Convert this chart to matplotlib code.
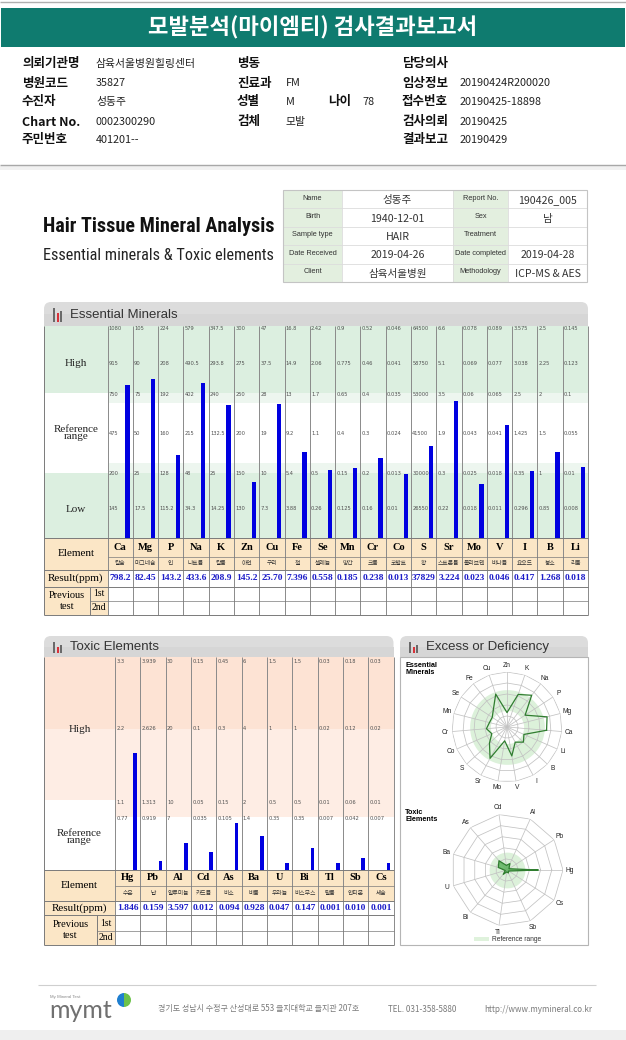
import os
import numpy as np
import matplotlib
matplotlib.use('Agg')
import matplotlib.pyplot as plt
from matplotlib.patches import Rectangle, FancyBboxPatch, Wedge
from matplotlib import font_manager as fm

# ---------------- data ----------------
title_text = '모발분석(마이엠티) 검사결과보고서'

info_col1_labels = ['의뢰기관명', '병원코드', '수진자', 'Chart No.', '주민번호']
info_col1_values = ['삼육서울병원힐링센터', '35827', '성동주', '0002300290', '401201--']
info_col2_labels = ['병동', '진료과', '성별', '검체']
info_col2_values = ['', 'FM', 'M', '모발']
info_age_label = '나이'
info_age_value = '78'
info_col3_labels = ['담당의사', '임상정보', '접수번호', '검사의뢰', '결과보고']
info_col3_values = ['', '20190424R200020', '20190425-18898', '20190425', '20190429']

card_labels_left = ['Name', 'Birth', 'Sample type', 'Date Received', 'Client']
card_values_left = ['성동주', '1940-12-01', 'HAIR', '2019-04-26', '삼육서울병원']
card_labels_right = ['Report No.', 'Sex', 'Treatment', 'Date completed', 'Methodology']
card_values_right = ['190426_005', '남', '', '2019-04-28', 'ICP-MS & AES']

ess_elements = ['Ca', 'Mg', 'P', 'Na', 'K', 'Zn', 'Cu', 'Fe', 'Se', 'Mn',
                'Cr', 'Co', 'S', 'Sr', 'Mo', 'V', 'I', 'B', 'Li']
ess_names = ['칼슘', '마그네슘', '인', '나트륨', '칼륨', '아연', '구리', '철', '셀레늄', '망간',
             '크롬', '코발트', '황', '스트론튬', '몰리브덴', '바나듐', '요오드', '붕소', '리튬']
ess_results = [798.2, 82.45, 143.2, 433.6, 208.9, 145.2, 25.70, 7.396, 0.558, 0.185,
               0.238, 0.013, 37829, 3.224, 0.023, 0.046, 0.417, 1.268, 0.018]
ess_result_text = ['798.2', '82.45', '143.2', '433.6', '208.9', '145.2', '25.70', '7.396',
                   '0.558', '0.185', '0.238', '0.013', '37829', '3.224', '0.023', '0.046',
                   '0.417', '1.268', '0.018']
# scale ticks of each column, top row -> bottom row
ess_ticks = [
    ['1080', '915', '750', '475', '200', '145'],
    ['105', '90', '75', '50', '25', '17.5'],
    ['224', '208', '192', '160', '128', '115.2'],
    ['579', '490.5', '402', '215', '48', '34.3'],
    ['347.5', '293.8', '240', '132.5', '25', '14.25'],
    ['300', '275', '250', '200', '150', '130'],
    ['47', '37.5', '28', '19', '10', '7.3'],
    ['16.8', '14.9', '13', '9.2', '5.4', '3.88'],
    ['2.42', '2.06', '1.7', '1.1', '0.5', '0.26'],
    ['0.9', '0.775', '0.65', '0.4', '0.15', '0.125'],
    ['0.52', '0.46', '0.4', '0.3', '0.2', '0.16'],
    ['0.046', '0.041', '0.035', '0.024', '0.013', '0.01'],
    ['64500', '58750', '53000', '41500', '30000', '26550'],
    ['6.6', '5.1', '3.5', '1.9', '0.3', '0.22'],
    ['0.078', '0.069', '0.06', '0.043', '0.025', '0.018'],
    ['0.089', '0.077', '0.065', '0.041', '0.018', '0.011'],
    ['3.575', '3.038', '2.5', '1.425', '0.35', '0.296'],
    ['2.5', '2.25', '2', '1.5', '1', '0.85'],
    ['0.145', '0.123', '0.1', '0.055', '0.01', '0.008'],
]

tox_elements = ['Hg', 'Pb', 'Al', 'Cd', 'As', 'Ba', 'U', 'Bi', 'Tl', 'Sb', 'Cs']
tox_names = ['수은', '납', '알루미늄', '카드뮴', '비소', '바륨', '우라늄', '비스무스', '탈륨', '안티몬', '세슘']
tox_results = [1.846, 0.159, 3.597, 0.012, 0.094, 0.928, 0.047, 0.147, 0.001, 0.010, 0.001]
tox_result_text = ['1.846', '0.159', '3.597', '0.012', '0.094', '0.928', '0.047', '0.147',
                   '0.001', '0.010', '0.001']
tox_ticks = [
    ['3.3', '2.2', '1.1', '0.77'],
    ['3.939', '2.626', '1.313', '0.919'],
    ['30', '20', '10', '7'],
    ['0.15', '0.1', '0.05', '0.035'],
    ['0.45', '0.3', '0.15', '0.105'],
    ['6', '4', '2', '1.4'],
    ['1.5', '1', '0.5', '0.35'],
    ['1.5', '1', '0.5', '0.35'],
    ['0.03', '0.02', '0.01', '0.007'],
    ['0.18', '0.12', '0.06', '0.042'],
    ['0.03', '0.02', '0.01', '0.007'],
]

footer_address = '경기도 성남시 수정구 산성대로 553 을지대학교 을지관 207호'
footer_tel = 'TEL. 031-358-5880'
footer_url = 'http://www.mymineral.co.kr'

# ---------------- scale (fraction of chart height for each tick row) ----------------
ESS_LEVELS = [0.986, 0.825, 0.679, 0.495, 0.302, 0.137]
TOX_LEVELS = [0.977, 0.662, 0.319, 0.244]


def to_frac(value, ticks, levels):
    xs = [0.0] + [float(t) for t in ticks[::-1]]
    fs = [0.0] + list(levels[::-1])
    return float(np.interp(value, xs, fs))


# ---------------- fonts ----------------
KR = ['Noto Sans CJK KR', 'DejaVu Sans']
SERIF = ['Liberation Serif', 'DejaVu Serif']
SANS = ['Liberation Sans', 'DejaVu Sans']


def pick_font(patterns):
    files = {}
    for f in fm.fontManager.ttflist:
        files[os.path.basename(f.fname).lower()] = f.fname
    for p in patterns:
        for b in sorted(files):
            if b.startswith(p):
                return fm.FontProperties(fname=files[b])
    return None


title_fp = pick_font(['notosans-extracondensedbold.', 'robotocondensed-bold.',
                      'notosans-condensedbold.', 'liberationsansnarrow-bold.',
                      'dejavusanscondensed-bold.']) or fm.FontProperties(family='DejaVu Sans', weight='bold')
sub_fp = pick_font(['robotocondensed-regular.', 'notosans-condensed.', 'liberationsansnarrow-regular.',
                    'dejavusanscondensed.']) or fm.FontProperties(family='Liberation Sans')

# ---------------- figure ----------------
W, H = 626, 1040
fig = plt.figure(figsize=(W / 100, H / 100), dpi=100)
fig.patch.set_facecolor('white')
page = fig.add_axes([0, 0, 1, 1])
page.set_xlim(0, W)
page.set_ylim(H, 0)
page.axis('off')


def rect(x0, y0, x1, y1, fc, ec='none', lw=0, z=0):
    page.add_patch(Rectangle((x0, y0), x1 - x0, y1 - y0, facecolor=fc, edgecolor=ec, linewidth=lw, zorder=z))


def hline(y, x0, x1, c, lw=0.7, z=2):
    page.plot([x0, x1], [y, y], color=c, lw=lw, zorder=z, solid_capstyle='butt')


def vline(x, y0, y1, c, lw=0.7, z=2):
    page.plot([x, x], [y0, y1], color=c, lw=lw, zorder=z, solid_capstyle='butt')


def px_axes(x0, y0, x1, y1, **kw):
    return fig.add_axes([x0 / W, 1 - y1 / H, (x1 - x0) / W, (y1 - y0) / H], **kw)


def panel_header(x0, y0, x1, y1, title, tx):
    page.add_patch(FancyBboxPatch((x0, y0), x1 - x0, y1 - y0,
                                  boxstyle='round,pad=0,rounding_size=7',
                                  facecolor='#dcdcdc', edgecolor='none', zorder=1))
    rect(x0, (y0 + y1) / 2, x1, y1, '#d6d6d6', z=1)
    # small bar-chart icon
    ix = x0 + 9
    rect(ix, y0 + 6, ix + 2, y1 - 4, '#6a6a6a', z=2)
    rect(ix + 3.5, y0 + 11, ix + 5.5, y1 - 4, '#d8323a', z=2)
    rect(ix + 7, y0 + 9, ix + 9, y1 - 4, '#6a6a6a', z=2)
    page.text(tx, (y0 + y1) / 2 + 0.5, title, fontsize=9.5, family=SANS, color='#333333',
              ha='left', va='center', zorder=3)


# ---------------- top header ----------------
hline(1.5, 0, W, '#b0b0b0', lw=1.0)
rect(1, 8, 625, 47, '#0f7b6f')
page.text(313, 27.5, title_text, color='white', fontsize=16, weight='bold', ha='center', va='center', family=KR)

rows_y = [64, 83, 102, 122, 140]
for y, lab, val in zip(rows_y, info_col1_labels, info_col1_values):
    page.text(22, y, lab, fontsize=9, weight='bold', family=KR, ha='left', va='center', color='#111')
    page.text(96, y, val, fontsize=7.8, family=KR, ha='left', va='center', color='#222')
for y, lab, val in zip(rows_y, info_col2_labels, info_col2_values):
    page.text(237, y, lab, fontsize=9, weight='bold', family=KR, ha='left', va='center', color='#111')
    page.text(286, y, val, fontsize=7.8, family=KR, ha='left', va='center', color='#222')
page.text(328, rows_y[2], info_age_label, fontsize=9, weight='bold', family=KR, ha='left', va='center', color='#111')
page.text(362, rows_y[2], info_age_value, fontsize=7.8, family=KR, ha='left', va='center', color='#222')
for y, lab, val in zip(rows_y, info_col3_labels, info_col3_values):
    page.text(402, y, lab, fontsize=9, weight='bold', family=KR, ha='left', va='center', color='#111')
    page.text(460, y, val, fontsize=7.8, family=KR, ha='left', va='center', color='#222')

hline(165, 0, W, '#a8a8a8', lw=1.0)
rect(0, 165.5, W, 170, '#f1f1f1')

# ---------------- title block ----------------
t1 = page.text(43, 226, 'Hair Tissue Mineral Analysis', fontproperties=title_fp, color='#111111',
               ha='left', va='center')
t1.set_fontsize(20)
t2 = page.text(43, 255, 'Essential minerals & Toxic elements', fontproperties=sub_fp, color='#222222',
               ha='left', va='center')
t2.set_fontsize(12)
fig.canvas.draw()
rend = fig.canvas.get_renderer()
w1 = t1.get_window_extent(rend).width
t1.set_fontsize(min(24, 20 * 231 / w1))
w2 = t2.get_window_extent(rend).width
t2.set_fontsize(min(13, 12 * 231 / w2))

# info card
cx = [283, 342, 453, 508, 587]
cy = np.linspace(190, 282, 6)
for r in range(5):
    rect(cx[0], cy[r], cx[1], cy[r + 1], '#e3efdf', z=0)
    rect(cx[2], cy[r], cx[3], cy[r + 1], '#e3efdf', z=0)
for y in cy[1:-1]:
    hline(y, cx[0], cx[4], '#dcdcdc', lw=0.6)
for x in cx[1:-1]:
    vline(x, cy[0], cy[-1], '#dcdcdc', lw=0.6)
page.add_patch(Rectangle((cx[0], cy[0]), cx[4] - cx[0], cy[-1] - cy[0], facecolor='none',
                         edgecolor='#c4c4c4', lw=0.8, zorder=3))
for r in range(5):
    ym = (cy[r] + cy[r + 1]) / 2
    page.text((cx[0] + cx[1]) / 2, ym - 1, card_labels_left[r], fontsize=5.3, family=SANS, color='#333',
              ha='center', va='center')
    page.text((cx[1] + cx[2]) / 2, ym + 1, card_values_left[r], fontsize=7.6, family=KR, color='#333',
              ha='center', va='center')
    page.text((cx[2] + cx[3]) / 2, ym - 1, card_labels_right[r], fontsize=5.3, family=SANS, color='#333',
              ha='center', va='center')
    page.text((cx[3] + cx[4]) / 2, ym + 1, card_values_right[r], fontsize=7.6, family=KR, color='#333',
              ha='center', va='center')

GREEN = '#dcefe0'
PALE_G = '#edf6ef'
PEACH_T = '#fde3d4'
PEACH_L = '#feede4'
HEAD = '#fbe6c6'
GRID = '#8a8a8a'
TAB = '#7a7a7a'
BLUE = '#0000e0'
RES = '#1c1cc8'

# ---------------- essential minerals ----------------
EX0, ELX, EX1 = 44, 107.5, 588
ECT, ECB = 326, 538
ecw = (EX1 - ELX) / len(ess_elements)
panel_header(EX0, 302, EX1, ECT, 'Essential Minerals', 70)
rect(EX0, ECT, ELX, 393, GREEN)
rect(EX0, 473, ELX, ECB, GREEN)
rect(ELX, ECT, EX1, 393, GREEN)
rect(ELX, 393, EX1, 403, PALE_G)
rect(ELX, 463, EX1, 473, PALE_G)
rect(ELX, 473, EX1, ECB, GREEN)
lab_cx = (EX0 + ELX) / 2
page.text(lab_cx, 363, 'High', fontsize=8, family=SERIF, ha='center', va='center', color='#222')
page.text(lab_cx, 433, 'Reference\nrange', fontsize=8, family=SERIF, ha='center', va='center',
          color='#222', linespacing=0.85)
page.text(lab_cx, 509, 'Low', fontsize=8, family=SERIF, ha='center', va='center', color='#222')

axE = px_axes(ELX, ECT, EX1, ECB)
axE.set_xlim(0, len(ess_elements))
axE.set_ylim(0, 1)
axE.axis('off')
ess_fracs = [to_frac(v, t, ESS_LEVELS) for v, t in zip(ess_results, ess_ticks)]
axE.bar(np.arange(len(ess_elements)) + 0.79, ess_fracs, width=0.17, color=BLUE, zorder=3)
for i, tk in enumerate(ess_ticks):
    for lab, lv in zip(tk, ESS_LEVELS):
        axE.text(i + 0.05, lv, lab, fontsize=3.7, family='DejaVu Sans', color='#505050', ha='left', va='center')

# table
ery = [538, 557, 570, 587, 601, 615]
rect(EX0, ery[0], EX1, ery[2], HEAD)
rect(EX0, ery[2], ELX, ery[5], HEAD)
for k in range(len(ess_elements) + 1):
    vline(ELX + k * ecw, ECT, ery[5], GRID)
vline(EX0, ECT, ery[5], TAB)
hline(ery[0], EX0, EX1, TAB)
hline(ery[1], ELX, EX1, TAB, lw=0.5)
hline(ery[2], EX0, EX1, TAB)
hline(ery[3], EX0, EX1, TAB)
hline(ery[4], 90, EX1, TAB, lw=0.5)
hline(ery[5], EX0, EX1, TAB)
vline(90, ery[3], ery[5], TAB)
page.text(lab_cx, (ery[0] + ery[2]) / 2, 'Element', fontsize=8, family=SERIF, ha='center', va='center')
page.text(lab_cx, (ery[2] + ery[3]) / 2, 'Result(ppm)', fontsize=8, family=SERIF, ha='center', va='center')
page.text((EX0 + 90) / 2, (ery[3] + ery[5]) / 2, 'Previous\ntest', fontsize=7.5, family=SERIF,
          ha='center', va='center', linespacing=1.2)
page.text((90 + ELX) / 2, (ery[3] + ery[4]) / 2, '1st', fontsize=7, family=SERIF, ha='center', va='center')
page.text((90 + ELX) / 2, (ery[4] + ery[5]) / 2, '2nd', fontsize=7, family=SERIF, ha='center', va='center')
for i, (el, nm, rs) in enumerate(zip(ess_elements, ess_names, ess_result_text)):
    xc = ELX + (i + 0.5) * ecw
    page.text(xc, (ery[0] + ery[1]) / 2, el, fontsize=7.5, weight='bold', family=SERIF, ha='center', va='center')
    page.text(xc, (ery[1] + ery[2]) / 2, nm, fontsize=4.2, family=KR, ha='center', va='center', color='#333')
    page.text(xc, (ery[2] + ery[3]) / 2, rs, fontsize=6.8, weight='bold', family=SERIF, ha='center',
              va='center', color=RES)

# ---------------- toxic elements ----------------
TX0, TLX, TX1 = 44, 115, 393.5
TCT, TCB = 657, 870
tcw = (TX1 - TLX) / len(tox_elements)
panel_header(TX0, 636, TX1, TCT, 'Toxic Elements', 70)
rect(TX0, TCT, TLX, 729, PEACH_T)
rect(TX0, 729, TLX, 800, PEACH_L)
rect(TLX, TCT, TX1, 729, PEACH_T)
rect(TLX, 729, TX1, 817, PEACH_L)
tlab_cx = (TX0 + TLX) / 2
page.text(tlab_cx, 729, 'High', fontsize=8, family=SERIF, ha='center', va='center', color='#222')
page.text(tlab_cx, 837, 'Reference\nrange', fontsize=8, family=SERIF, ha='center', va='center',
          color='#222', linespacing=0.85)

axT = px_axes(TLX, TCT, TX1, TCB)
axT.set_xlim(0, len(tox_elements))
axT.set_ylim(0, 1)
axT.axis('off')
tox_fracs = [to_frac(v, t, TOX_LEVELS) for v, t in zip(tox_results, tox_ticks)]
axT.bar(np.arange(len(tox_elements)) + 0.8, tox_fracs, width=0.15, color=BLUE, zorder=3)
for i, tk in enumerate(tox_ticks):
    for lab, lv in zip(tk, TOX_LEVELS):
        axT.text(i + 0.05, lv, lab, fontsize=3.7, family='DejaVu Sans', color='#505050', ha='left', va='center')

try_ = [870, 886, 901, 915, 931, 945]
rect(TX0, try_[0], TX1, try_[2], HEAD)
rect(TX0, try_[2], TLX, try_[5], HEAD)
for k in range(len(tox_elements) + 1):
    vline(TLX + k * tcw, TCT, try_[5], GRID)
vline(TX0, TCT, try_[5], TAB)
hline(try_[0], TX0, TX1, TAB)
hline(try_[1], TLX, TX1, TAB, lw=0.5)
hline(try_[2], TX0, TX1, TAB)
hline(try_[3], TX0, TX1, TAB)
hline(try_[4], 97, TX1, TAB, lw=0.5)
hline(try_[5], TX0, TX1, TAB)
vline(97, try_[3], try_[5], TAB)
page.text(tlab_cx, (try_[0] + try_[2]) / 2, 'Element', fontsize=8, family=SERIF, ha='center', va='center')
page.text(tlab_cx, (try_[2] + try_[3]) / 2, 'Result(ppm)', fontsize=8, family=SERIF, ha='center', va='center')
page.text((TX0 + 97) / 2, (try_[3] + try_[5]) / 2, 'Previous\ntest', fontsize=7.5, family=SERIF,
          ha='center', va='center', linespacing=1.2)
page.text((97 + TLX) / 2, (try_[3] + try_[4]) / 2, '1st', fontsize=7, family=SERIF, ha='center', va='center')
page.text((97 + TLX) / 2, (try_[4] + try_[5]) / 2, '2nd', fontsize=7, family=SERIF, ha='center', va='center')
for i, (el, nm, rs) in enumerate(zip(tox_elements, tox_names, tox_result_text)):
    xc = TLX + (i + 0.5) * tcw
    page.text(xc, (try_[0] + try_[1]) / 2, el, fontsize=7.5, weight='bold', family=SERIF, ha='center', va='center')
    page.text(xc, (try_[1] + try_[2]) / 2, nm, fontsize=4.2, family=KR, ha='center', va='center', color='#333')
    page.text(xc, (try_[2] + try_[3]) / 2, rs, fontsize=6.8, weight='bold', family=SERIF, ha='center',
              va='center', color=RES)

# ---------------- excess / deficiency radar ----------------
RX0, RX1 = 400, 588
panel_header(RX0, 636, RX1, 657, 'Excess or Deficiency', 426)
page.add_patch(Rectangle((RX0, 657), RX1 - RX0, 945 - 657, facecolor='none', edgecolor='#b5b5b5',
                         lw=0.8, zorder=2))
page.text(405, 669, 'Essential\nMinerals', fontsize=5.2, weight='bold', family=SANS, ha='left', va='center',
          linespacing=1.0)
page.text(405, 816, 'Toxic\nElements', fontsize=5.2, weight='bold', family=SANS, ha='left', va='center',
          linespacing=1.0)
rect(474, 937, 489, 941, '#dff2dc', z=2)
page.text(492, 939.5, 'Reference range', fontsize=4.8, family=SANS, ha='left', va='center', color='#333')


def radar(ax, labels, fracs, offset, ref_lo, ref_hi, fill_data, lab_r):
    n = len(labels)
    ang = np.arange(n) * 2 * np.pi / n
    ax.set_theta_offset(offset)
    ax.set_ylim(0, 1)
    ax.grid(False)
    ax.spines['polar'].set_visible(False)
    ax.patch.set_alpha(0)
    ax.set_yticks([])
    ax.set_xticks([])
    th = np.linspace(0, 2 * np.pi, 240)
    ax.fill_between(th, ref_lo, ref_hi, color='#dcf1da', lw=0, zorder=1)
    ang_c = np.append(ang, ang[0])
    for r in [0.2, 0.4, 0.6, 0.8, 1.0]:
        ax.plot(ang_c, [r] * (n + 1), color='#c2c2c2', lw=0.55, zorder=2)
    for a in ang:
        ax.plot([a, a], [0, 1], color='#c2c2c2', lw=0.55, zorder=2)
    vals = np.append(np.asarray(fracs), fracs[0])
    if fill_data:
        ax.fill(ang_c, vals, color='#4fae4f', alpha=0.75, zorder=3, lw=0)
    ax.plot(ang_c, vals, color='#2f7d2f', lw=0.9, zorder=4)
    for a, lab in zip(ang, labels):
        ax.text(a, lab_r, lab, fontsize=4.8, family=SANS, color='#222', ha='center', va='center',
                clip_on=False)


axR1 = px_axes(452, 672, 562, 782, projection='polar')
radar(axR1, ess_elements, ess_fracs, np.deg2rad(90 - 5 * 360 / 19), ESS_LEVELS[4], ESS_LEVELS[2], False, 1.12)
axR2 = px_axes(451, 814, 563, 926, projection='polar')
radar(axR2, tox_elements, tox_fracs, 0.0, 0.0, TOX_LEVELS[2], True, 1.12)

# ---------------- footer ----------------
hline(985, 38, 596, '#cfcfcf', lw=0.8)
page.text(50, 997, 'My Mineral Test', fontsize=3.2, family=SANS, color='#8a8a8a', ha='left', va='center')
page.text(49, 1011, 'mymt', fontsize=18, family=['Lato', 'DejaVu Sans'], color='#707070', ha='left',
          va='center')
page.add_patch(Wedge((124, 1000), 7, 90, 270, facecolor='#1f7fd0', edgecolor='none', zorder=3))
page.add_patch(Wedge((124, 1000), 7, -90, 90, facecolor='#6cc24a', edgecolor='none', zorder=3))
page.text(158, 1009, footer_address, fontsize=5.8, family=KR, color='#7a7a7a', ha='left', va='center')
page.text(388, 1009, footer_tel, fontsize=5.8, family=KR, color='#7a7a7a', ha='left', va='center')
page.text(484, 1009, footer_url, fontsize=5.8, family=KR, color='#7a7a7a', ha='left', va='center')
rect(0, 1030, W, H, '#efefef')

fig.savefig('out.png', dpi=100, facecolor='white')
